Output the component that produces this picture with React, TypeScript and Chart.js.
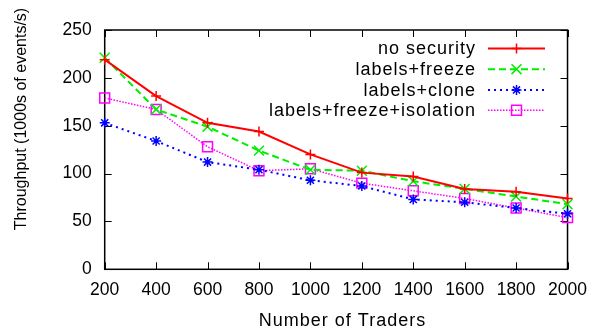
import React, { useEffect, useRef } from "react";
import { Chart, registerables } from "chart.js";

Chart.register(...registerables);

const traders = ["200", "400", "600", "800", "1000", "1200", "1400", "1600", "1800", "2000"];
const noSecurity = [219, 181, 153, 144, 120, 101, 97, 84, 81, 74];
const labelsFreeze = [221, 167, 149, 124, 104, 103, 92, 84, 76, 68];
const labelsClone = [153, 134, 112, 104, 93, 87, 73, 70, 64, 58];
const labelsFreezeIsolation = [179, 167, 128, 103, 105, 90, 82, 74, 64, 54];
const yTicks = [0, 50, 100, 150, 200, 250];

const seriesNames = ["no security", "labels+freeze", "labels+clone", "labels+freeze+isolation"];
const FONT = '"Liberation Sans", Arial, Helvetica, sans-serif';

function drawMarker(ctx: CanvasRenderingContext2D, style: string, x: number, y: number, r: number, color: string, lw: number) {
  ctx.save();
  ctx.strokeStyle = color;
  ctx.lineWidth = lw;
  ctx.setLineDash([]);
  ctx.beginPath();
  if (style === "cross") {
    ctx.moveTo(x - r, y); ctx.lineTo(x + r, y);
    ctx.moveTo(x, y - r); ctx.lineTo(x, y + r);
  } else if (style === "crossRot") {
    const d = r * Math.SQRT1_2;
    ctx.moveTo(x - d, y - d); ctx.lineTo(x + d, y + d);
    ctx.moveTo(x - d, y + d); ctx.lineTo(x + d, y - d);
  } else if (style === "star") {
    const d = r * Math.SQRT1_2;
    ctx.moveTo(x - r, y); ctx.lineTo(x + r, y);
    ctx.moveTo(x, y - r); ctx.lineTo(x, y + r);
    ctx.moveTo(x - d, y - d); ctx.lineTo(x + d, y + d);
    ctx.moveTo(x - d, y + d); ctx.lineTo(x + d, y - d);
  } else if (style === "rect") {
    const s = r * Math.SQRT1_2;
    ctx.rect(x - s, y - s, 2 * s, 2 * s);
  }
  ctx.stroke();
  ctx.restore();
}

const framePlugin = {
  id: "gnuplotFrame",
  beforeDatasetsDraw(chart: any) {
    const ctx = chart.ctx as CanvasRenderingContext2D;
    const { left, right, top, bottom } = chart.chartArea;
    const xs = chart.scales.x;
    const ys = chart.scales.y;
    ctx.save();
    ctx.strokeStyle = "#000";
    ctx.lineWidth = 1.5;
    ctx.strokeRect(left, top, right - left, bottom - top);
    ctx.lineWidth = 1;
    ctx.beginPath();
    const tl = 7;
    traders.forEach((_, i) => {
      const px = Math.round(xs.getPixelForValue(i)) + 0.5;
      ctx.moveTo(px, bottom); ctx.lineTo(px, bottom - tl);
      ctx.moveTo(px, top); ctx.lineTo(px, top + tl);
    });
    yTicks.forEach((v) => {
      const py = Math.round(ys.getPixelForValue(v)) + 0.5;
      ctx.moveTo(left, py); ctx.lineTo(left + tl, py);
      ctx.moveTo(right, py); ctx.lineTo(right - tl, py);
    });
    ctx.stroke();

    // axis titles
    ctx.fillStyle = "#000";
    ctx.textAlign = "center";
    ctx.textBaseline = "middle";
    ctx.font = `18px ${FONT}`;
    (ctx as any).letterSpacing = "1px";
    ctx.fillText("Number of Traders", 342.5, 321.5);
    (ctx as any).letterSpacing = "0px";
    ctx.font = `16px ${FONT}`;
    ctx.translate(22, 119);
    ctx.rotate(-Math.PI / 2);
    ctx.fillText("Throughput (1000s of events/s)", 0, 0);
    ctx.restore();
  },
  afterDatasetsDraw(chart: any) {
    const ctx = chart.ctx as CanvasRenderingContext2D;
    const rows = [48.5, 69.2, 89.9, 110.3];
    chart.data.datasets.forEach((ds: any, i: number) => {
      const y = rows[i];
      ctx.save();
      ctx.fillStyle = "#000";
      ctx.font = `18px ${FONT}`;
      (ctx as any).letterSpacing = "1px";
      ctx.textAlign = "right";
      ctx.textBaseline = "middle";
      ctx.fillText(ds.label, 476, y + 1);
      (ctx as any).letterSpacing = "0px";
      ctx.strokeStyle = ds.borderColor;
      ctx.lineWidth = ds.borderWidth;
      ctx.setLineDash(ds.borderDash || []);
      ctx.beginPath();
      ctx.moveTo(488, y);
      ctx.lineTo(545, y);
      ctx.stroke();
      ctx.restore();
      drawMarker(ctx, ds.pointStyle, 516.5, y, ds.pointRadius, ds.borderColor, ds.pointBorderWidth);
    });
  },
};

export default function App() {
  const ref = useRef<HTMLCanvasElement | null>(null);
  useEffect(() => {
    if (!ref.current) return;
    const chart = new Chart(ref.current, {
      type: "line",
      data: {
        labels: traders,
        datasets: [
          {
            label: seriesNames[0],
            data: noSecurity,
            borderColor: "#ff0000",
            backgroundColor: "transparent",
            borderWidth: 2,
            pointStyle: "cross",
            pointRadius: 5,
            pointBorderWidth: 1.5,
            pointBorderColor: "#ff0000",
            tension: 0,
            clip: false,
          } as any,
          {
            label: seriesNames[1],
            data: labelsFreeze,
            borderColor: "#00ee00",
            backgroundColor: "transparent",
            borderWidth: 2,
            borderDash: [7, 4],
            pointStyle: "crossRot",
            pointRadius: 7,
            pointBorderWidth: 1.5,
            pointBorderColor: "#00ee00",
            tension: 0,
            clip: false,
          } as any,
          {
            label: seriesNames[2],
            data: labelsClone,
            borderColor: "#0000ff",
            backgroundColor: "transparent",
            borderWidth: 2,
            borderDash: [2, 4],
            pointStyle: "star",
            pointRadius: 5,
            pointBorderWidth: 1.5,
            pointBorderColor: "#0000ff",
            tension: 0,
            clip: false,
          } as any,
          {
            label: seriesNames[3],
            data: labelsFreezeIsolation,
            borderColor: "#ff00ff",
            backgroundColor: "transparent",
            borderWidth: 1.5,
            borderDash: [1.5, 1.5],
            pointStyle: "rect",
            pointRadius: 7,
            pointBorderWidth: 1.5,
            pointBorderColor: "#ff00ff",
            pointBackgroundColor: "transparent",
            tension: 0,
            clip: false,
          } as any,
        ],
      },
      options: {
        animation: false,
        responsive: false,
        maintainAspectRatio: false,
        layout: { padding: { top: 30, right: 26.3, left: 0, bottom: 0 } },
        plugins: { legend: { display: false }, tooltip: { enabled: false } },
        elements: { line: { borderCapStyle: "butt" } },
        scales: {
          x: {
            type: "category",
            offset: false,
            grid: { display: false, drawTicks: false },
            border: { display: false },
            ticks: { color: "#000", font: { size: 17.5, family: FONT }, padding: 10, maxRotation: 0, autoSkip: false },
            afterFit: (s: any) => { s.height = 66.7; },
          },
          y: {
            min: 0,
            max: 250,
            grid: { display: false, drawTicks: false },
            border: { display: false },
            ticks: { color: "#000", font: { size: 17.5, family: FONT }, padding: 13, stepSize: 50 },
            afterFit: (s: any) => { s.width = 104.7; },
          },
        },
      } as any,
      plugins: [framePlugin],
    });
    return () => chart.destroy();
  }, []);
  return (
    <div style={{ position: "fixed", left: 0, top: 0, width: 597, height: 336, background: "#fff" }}>
      <canvas ref={ref} width={597} height={336} style={{ width: 597, height: 336 }} />
    </div>
  );
}
